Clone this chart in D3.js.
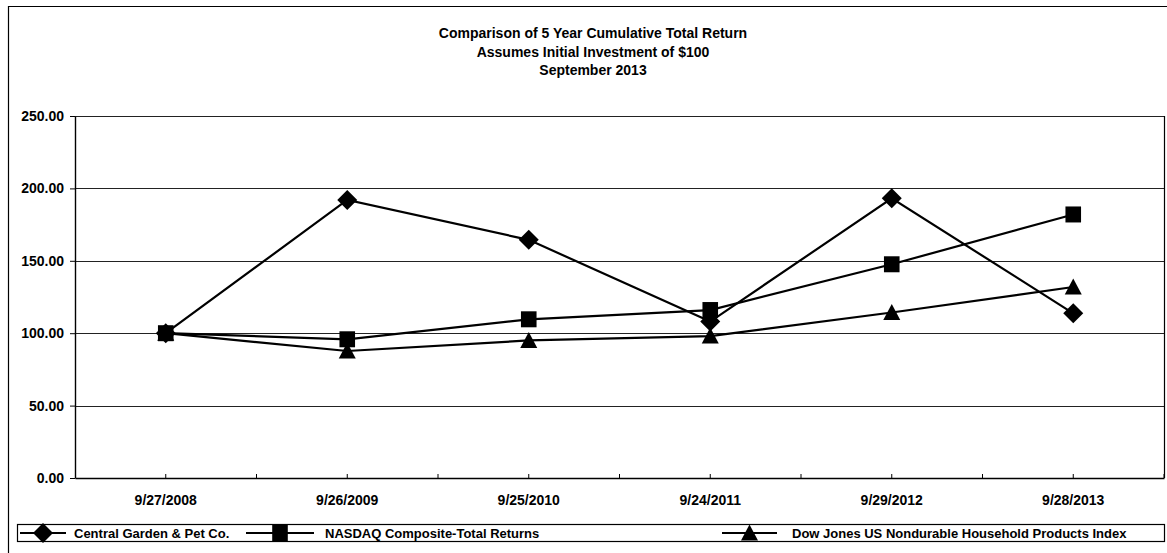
<!DOCTYPE html>
<html>
<head>
<meta charset="utf-8">
<script src="https://cdn.jsdelivr.net/npm/d3@7"></script>
<style>
  html, body { margin: 0; padding: 0; background: #fff; }
  svg { display: block; font-family: "Liberation Sans", Arial, sans-serif; }
</style>
</head>
<body>
<svg id="chart" width="1167" height="553"></svg>
<script>
// ---- data ----
const categories = ["9/27/2008", "9/26/2009", "9/25/2010", "9/24/2011", "9/29/2012", "9/28/2013"];
const centralGarden = [100.00, 192.00, 164.50, 108.00, 193.20, 113.70];
const nasdaq = [100.00, 95.80, 109.60, 116.00, 147.60, 182.00];
const dowJones = [100.00, 87.70, 95.00, 98.00, 114.30, 131.90];
const yTicks = [0, 50, 100, 150, 200, 250];
const titleLines = ["Comparison of 5 Year Cumulative Total Return", "Assumes Initial Investment of $100", "September 2013"];
const seriesNames = ["Central Garden & Pet Co.", "NASDAQ Composite-Total Returns", "Dow Jones US Nondurable Household Products Index"];

const series = [
  { name: seriesNames[0], values: centralGarden, shape: "diamond" },
  { name: seriesNames[1], values: nasdaq, shape: "square" },
  { name: seriesNames[2], values: dowJones, shape: "triangle" }
];

const svg = d3.select("#chart");
const plot = { left: 75, right: 1164, top: 116, bottom: 478 };
const ink = "#000";
const FONT = "Liberation Sans, Arial, sans-serif";

// outer frame (left and top edges visible; right/bottom beyond the crop)
svg.append("path").attr("d", "M8.5,553V6.5H1167")
  .attr("fill", "none").attr("stroke", ink).attr("stroke-width", 1.2);

// title
const title = svg.append("text").attr("text-anchor", "middle").attr("font-size", 14)
  .attr("font-weight", "bold").attr("fill", ink);
titleLines.forEach((t, i) => {
  title.append("tspan").attr("x", 593).attr("y", 38 + i * 18.5).text(t);
});

// scales
const x = d3.scaleBand().domain(categories).range([plot.left, plot.right]).padding(0);
const y = d3.scaleLinear().domain([0, 250]).range([plot.bottom, plot.top]);
const cx = d => x(d) + x.bandwidth() / 2;

// gridlines
svg.append("g").selectAll("line").data(yTicks.filter(v => v > 0)).join("line")
  .attr("x1", plot.left).attr("x2", plot.right)
  .attr("y1", d => Math.round(y(d)) + 0.5).attr("y2", d => Math.round(y(d)) + 0.5)
  .attr("stroke", "#222").attr("stroke-width", 1.1);
// plot area right border
svg.append("line").attr("x1", plot.right + 0.5).attr("x2", plot.right + 0.5)
  .attr("y1", plot.top).attr("y2", plot.bottom).attr("stroke", ink).attr("stroke-width", 1.2);

// y axis
const yAxis = svg.append("g").attr("transform", `translate(${plot.left},0)`)
  .call(d3.axisLeft(y).tickValues(yTicks).tickFormat(d3.format(".2f")).tickSize(5).tickSizeOuter(0));
yAxis.select(".domain").attr("stroke", ink).attr("stroke-width", 1.4);
yAxis.selectAll(".tick line").attr("stroke", ink);
yAxis.selectAll(".tick text").attr("font-size", 14).attr("font-weight", "bold").attr("fill", ink).attr("x", -11)
  .attr("font-family", FONT);

// x axis
const xAxis = svg.append("g").attr("transform", `translate(0,${plot.bottom})`)
  .call(d3.axisBottom(x).tickSize(0).tickSizeOuter(0));
xAxis.select(".domain").attr("stroke", ink).attr("stroke-width", 1.4);
xAxis.selectAll(".tick text").attr("font-size", 14).attr("font-weight", "bold").attr("fill", ink)
  .attr("dy", 0).attr("y", 27).attr("font-family", FONT);
// small inward tick marks at half-band steps
const halfTicks = d3.range(categories.length * 2).map(i => plot.left + x.bandwidth() * (i + 1) / 2);
svg.append("g").selectAll("line").data(halfTicks).join("line")
  .attr("x1", d => d).attr("x2", d => d).attr("y1", plot.bottom).attr("y2", plot.bottom - 4)
  .attr("stroke", ink).attr("stroke-width", 1);

// marker paths
function markerPath(shape) {
  if (shape === "diamond") return "M0,-10L10,0L0,10L-10,0Z";
  if (shape === "square") return "M-7.8,-8L7.8,-8L7.8,8L-7.8,8Z";
  return "M0,-8.5L8.5,7.5L-8.5,7.5Z";
}

const line = d3.line().x((d, i) => cx(categories[i])).y(d => y(d));

series.forEach(s => {
  svg.append("path").datum(s.values).attr("d", line)
    .attr("fill", "none").attr("stroke", ink).attr("stroke-width", 2.2);
});
series.forEach(s => {
  svg.append("g").selectAll("path").data(s.values).join("path")
    .attr("transform", (d, i) => `translate(${cx(categories[i])},${y(d)})`)
    .attr("d", markerPath(s.shape)).attr("fill", ink);
});

// legend
const lg = svg.append("g");
lg.append("rect").attr("x", 17.5).attr("y", 524.5).attr("width", 1147).attr("height", 17)
  .attr("fill", "#fff").attr("stroke", ink).attr("stroke-width", 1.2);
const legendItems = [
  { x0: 20, x1: 66, textX: 74 },
  { x0: 246, x1: 314, textX: 325 },
  { x0: 722, x1: 777, textX: 792 }
];
series.forEach((s, i) => {
  const it = legendItems[i];
  const yy = 533;
  lg.append("line").attr("x1", it.x0).attr("x2", it.x1).attr("y1", yy).attr("y2", yy)
    .attr("stroke", ink).attr("stroke-width", 2.2);
  const mx = (it.x0 + it.x1) / 2;
  lg.append("path").attr("transform", `translate(${mx},${yy})`).attr("d", markerPath(s.shape))
    .attr("fill", ink);
  lg.append("text").attr("x", it.textX).attr("y", yy + 4.5).attr("font-size", 13)
    .attr("font-weight", "bold").attr("fill", ink).text(s.name);
});
</script>
</body>
</html>
